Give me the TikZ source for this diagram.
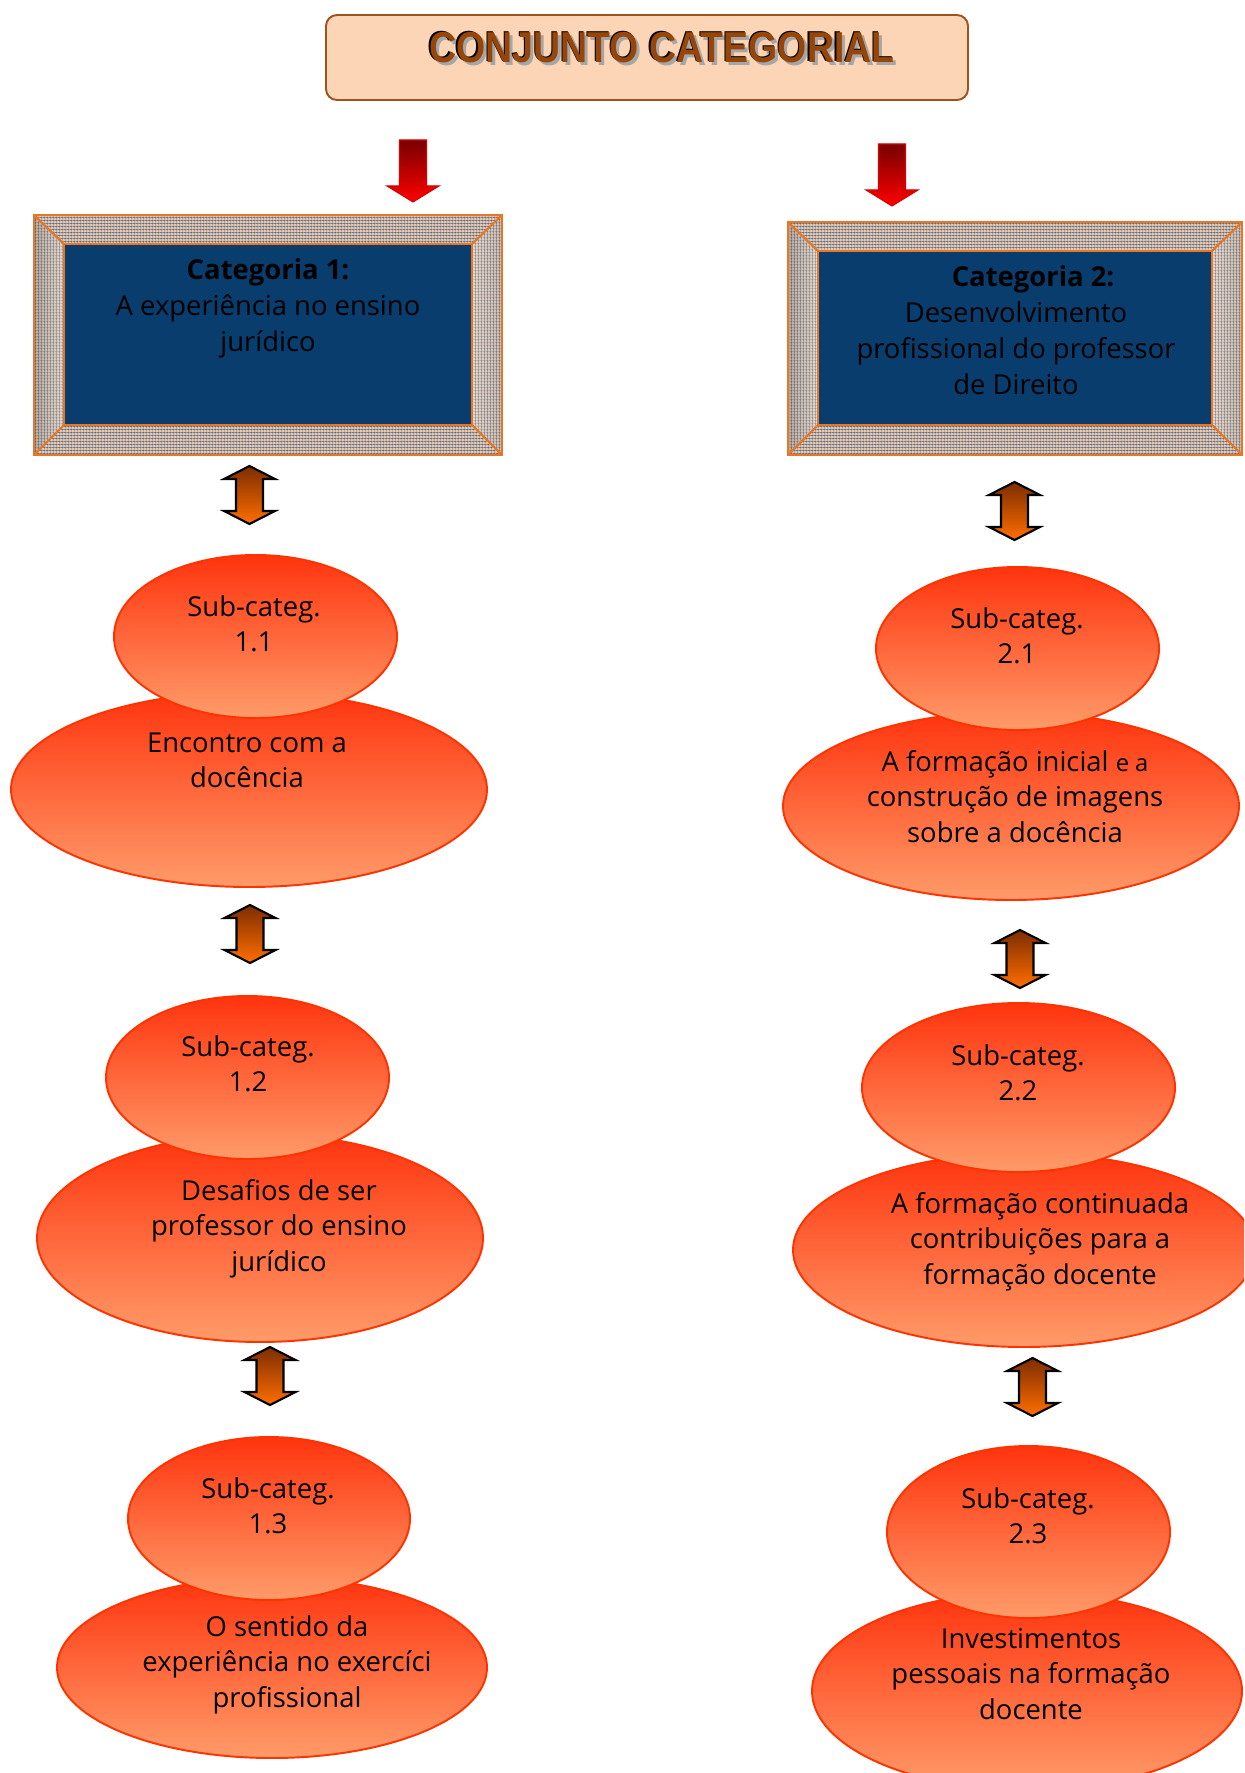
\documentclass[tikz,border=0pt]{standalone}
\usepackage{fontspec}
\setmainfont{Open Sans}
\newfontfamily\titlefont{Liberation Sans}
\newfontfamily\capfont{Liberation Serif}
\usetikzlibrary{shapes.geometric,patterns}
\definecolor{titlefill}{RGB}{251,213,181}
\definecolor{titledraw}{RGB}{160,82,30}
\definecolor{titletext}{RGB}{150,70,10}
\definecolor{framefill}{RGB}{8,61,110}
\definecolor{frameline}{RGB}{232,118,36}
\definecolor{bevelbase}{RGB}{226,200,176}
\definecolor{gridblue}{RGB}{70,88,120}
\definecolor{elltop}{RGB}{255,52,14}
\definecolor{ellbot}{RGB}{255,155,105}
\definecolor{elldraw}{RGB}{255,51,0}
\definecolor{dbltop}{RGB}{125,45,0}
\definecolor{dblbot}{RGB}{255,110,0}
\definecolor{redtop}{RGB}{120,0,0}
\definecolor{redbot}{RGB}{255,0,0}
\pgfdeclarepatternformonly{finegrid}{\pgfqpoint{0pt}{0pt}}{\pgfqpoint{1.8pt}{1.8pt}}{\pgfqpoint{1.8pt}{1.8pt}}{%
  \pgfsetlinewidth{0.35pt}%
  \pgfpathmoveto{\pgfqpoint{0pt}{0.9pt}}\pgfpathlineto{\pgfqpoint{1.8pt}{0.9pt}}%
  \pgfpathmoveto{\pgfqpoint{0.9pt}{0pt}}\pgfpathlineto{\pgfqpoint{0.9pt}{1.8pt}}%
  \pgfusepath{stroke}}
\newdimen\pu \pu=0.02cm
\newcommand\ml[1]{\begin{tabular}[t]{@{}c@{}}#1\end{tabular}}
\tikzset{
  bub/.style={ellipse, draw=elldraw, line width=1.1pt, top color=elltop, bottom color=ellbot, inner sep=0pt, outer sep=0pt},
  lbl/.style={anchor=base, inner sep=0pt, font=\fontsize{15.6}{20.4}\selectfont},
  catin/.style={rectangle, fill=framefill, draw=frameline, line width=1.1pt, inner sep=0pt, outer sep=0pt},
  bevel/.style={fill=bevelbase, postaction={pattern=finegrid, pattern color=gridblue}},
  frameedge/.style={draw=frameline, line width=1.2pt, line join=miter},
  titlebox/.style={rectangle, rounded corners=11\pu, fill=titlefill, draw=titledraw, line width=1.1pt, minimum width=642\pu, minimum height=85\pu, inner sep=0pt},
  ttl/.style={anchor=base, inner sep=0pt, font=\titlefont\bfseries\fontsize{22}{26}\selectfont},
  redarrow/.pic={\path[draw=red!85!black, line width=0.6pt, top color=redtop, bottom color=redbot]
    (-13.5,0) -- (13.5,0) -- (13.5,46) -- (26,46) -- (0,62) -- (-26,46) -- (-13.5,46) -- cycle;},
  updown/.pic={\path[draw=black, line width=1.2pt, top color=dbltop, bottom color=dblbot, line join=miter]
    (0,0) -- (25.5,13) -- (13.5,13) -- (13.5,45) -- (25.5,45) -- (0,58) -- (-25.5,45) -- (-13.5,45) -- (-13.5,13) -- (-25.5,13) -- cycle;}
}
\newcommand\bevelframe[5]{%
  \path[bevel] (#2,#3) -- (#4,#3) -- (#1.north east) -- (#1.north west) -- cycle;
  \path[bevel] (#4,#3) -- (#4,#5) -- (#1.south east) -- (#1.north east) -- cycle;
  \path[bevel] (#4,#5) -- (#2,#5) -- (#1.south west) -- (#1.south east) -- cycle;
  \path[bevel] (#2,#5) -- (#2,#3) -- (#1.north west) -- (#1.south west) -- cycle;
  \path[left color=black!60, right color=white, fill opacity=0.3] (#2,#5) -- (#2,#3) -- (#1.north west) -- (#1.south west) -- cycle;
  \path[left color=white, right color=black!40, fill opacity=0.25] (#4,#3) -- (#4,#5) -- (#1.south east) -- (#1.north east) -- cycle;
  \draw[frameedge] (#2,#3) rectangle (#4,#5);
  \draw[frameedge] (#2,#3) -- (#1.north west) (#4,#3) -- (#1.north east)
                   (#4,#5) -- (#1.south east) (#2,#5) -- (#1.south west);
  \draw[frameedge] (#1.north west) rectangle (#1.south east);
}
\newcommand\ttltext{\scalebox{0.97}[1.12]{CONJUNTO CATEGORIAL}}
\begin{document}
\begin{tikzpicture}[x=0.02cm,y=-0.02cm]
\useasboundingbox (0,0) rectangle (1244,1773);
\fill[white] (0,0) rectangle (1244,1773);
\clip (0,0) rectangle (1244,1773);

% title
\node[titlebox] (title) at (647,57.5) {};
\node[ttl, text=black!35] (tshadow) at (665,66) {\ttltext};
\node[ttl, text=black] (toutline) at (660.5,61.5) {\ttltext};
\node[ttl, text=titletext] (ttext) at (662,63) {\ttltext};

% red arrows
\pic at (413,140) {redarrow};
\pic at (892,144) {redarrow};

% category frames
\node[catin, minimum width=408\pu, minimum height=181\pu] (cat1) at (268,334.5) {};
\bevelframe{cat1}{34}{215}{502}{455}
\node[catin, minimum width=394\pu, minimum height=174\pu] (cat2) at (1015,338) {};
\bevelframe{cat2}{788}{222}{1242}{455}

\node[lbl] (tc1) at (268,280) {\ml{\textbf{Categoria 1:}\\A experiência no ensino\\jurídico}};
\node[lbl] (tc2h) at (1033,287) {\textbf{Categoria 2:}};
\node[lbl] (tc2) at (1016,323) {\ml{Desenvolvimento\\profissional do professor\\de Direito}};

% double arrows
\pic at (249.5,466) {updown};
\pic at (250,905) {updown};
\pic at (270,1347) {updown};
\pic at (1014.5,482) {updown};
\pic at (1020,930) {updown};
\pic at (1032.5,1358) {updown};

% big ellipses
\node[bub, minimum width=476\pu, minimum height=195\pu] (b11) at (249,789.5) {};
\node[bub, minimum width=446\pu, minimum height=208\pu] (b12) at (260,1238) {};
\node[bub, minimum width=430\pu, minimum height=181\pu] (b13) at (272,1667.5) {};
\node[bub, minimum width=456\pu, minimum height=188\pu] (b21) at (1011,806) {};
\node[bub, minimum width=462\pu, minimum height=194\pu] (b22) at (1024,1250) {};
\node[bub, minimum width=430\pu, minimum height=198\pu] (b23) at (1027,1691) {};

% sub ellipses
\node[bub, minimum width=283\pu, minimum height=163\pu] (s11) at (255.5,636.5) {};
\node[bub, minimum width=283\pu, minimum height=163\pu] (s12) at (247.5,1077.5) {};
\node[bub, minimum width=282\pu, minimum height=163\pu] (s13) at (269,1518.5) {};
\node[bub, minimum width=283\pu, minimum height=163\pu] (s21) at (1017.5,648.5) {};
\node[bub, minimum width=313\pu, minimum height=169\pu] (s22) at (1018.5,1087.5) {};
\node[bub, minimum width=283\pu, minimum height=172\pu] (s23) at (1028.5,1532) {};

% texts
\node[lbl] (ts11) at (254,616) {\ml{Sub-categ.\\1.1}};
\node[lbl] (tb11) at (247,752) {\ml{Encontro com a\\docência}};
\node[lbl] (ts12) at (248,1056) {\ml{Sub-categ.\\1.2}};
\node[lbl] (tb12) at (279,1200) {\ml{Desafios de ser\\professor do ensino\\jurídico}};
\node[lbl] (ts13) at (268,1498) {\ml{Sub-categ.\\1.3}};
\node[lbl] (tb13) at (287,1636) {\ml{O sentido da\\experiência no exercíci\\profissional}};
\node[lbl] (ts21) at (1017,628) {\ml{Sub-categ.\\2.1}};
\node[lbl] (tb21) at (1015,771) {\ml{A formação inicial {\fontsize{13.5}{20.4}\selectfont e a}\\construção de imagens\\sobre a docência}};
\node[lbl] (ts22) at (1018,1065) {\ml{Sub-categ.\\2.2}};
\node[lbl] (tb22) at (1040,1213) {\ml{A formação continuada\\contribuições para a\\formação docente}};
\node[lbl] (ts23) at (1028,1508) {\ml{Sub-categ.\\2.3}};
\node[lbl] (tb23) at (1031,1648) {\ml{Investimentos\\pessoais na formação\\docente}};

% caption (cut by the page edge)
\node[anchor=base west, inner sep=0pt, font=\capfont\fontsize{18}{22}\selectfont] (cap) at (50,1797) {FIGURA 15: Conjunto categorial};
\end{tikzpicture}
\end{document}
